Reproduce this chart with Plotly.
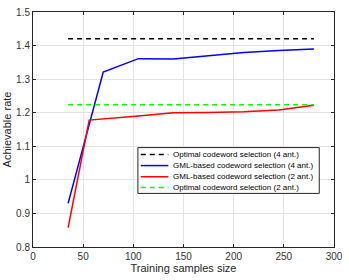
import plotly.graph_objects as go

x_blue = [35, 70, 105, 140, 175, 210, 245, 280]
y_blue = [0.93, 1.321, 1.361, 1.36, 1.37, 1.379, 1.385, 1.39]
x_red = [35, 56, 105, 140, 175, 210, 245, 280]
y_red = [0.858, 1.178, 1.19, 1.20, 1.201, 1.203, 1.208, 1.222]
x_opt = [35, 280]
y_opt4 = [1.42, 1.42]
y_opt2 = [1.224, 1.224]

names = ["Optimal codeword selection (4 ant.)",
         "GML-based codeword selection (4 ant.)",
         "GML-based codeword selection (2 ant.)",
         "Optimal codeword selection (2 ant.)"]
colors = ["black", "#0000ff", "#ff0000", "#00ff00"]
dashes = ["5px,4px", "solid", "solid", "5px,4px"]

fig = go.Figure()
series = [(x_opt, y_opt4), (x_blue, y_blue), (x_red, y_red), (x_opt, y_opt2)]
for (xs, ys), nm, c, d in zip(series, names, colors, dashes):
    fig.add_trace(go.Scatter(x=xs, y=ys, mode="lines", name=nm, showlegend=False,
                             line=dict(color=c, width=1.5, dash=d)))

axis_common = dict(showline=True, linecolor="#262626", linewidth=1, mirror="ticks",
                   ticks="inside", ticklen=3, tickcolor="#262626",
                   showgrid=True, gridcolor="#e3e3e3", gridwidth=1, zeroline=False,
                   tickfont=dict(size=10, color="#333333", family="Liberation Sans, Arial"))

# custom compact legend (MATLAB-style)
shapes = [dict(type="rect", xref="paper", yref="paper", x0=0.3485, x1=0.951,
               y0=0.228, y1=0.423, line=dict(color="#262626", width=1),
               fillcolor="white", layer="above")]
annotations = []
row_y = [0.394, 0.3465, 0.299, 0.253]
for nm, c, d, ry in zip(names, colors, dashes, row_y):
    shapes.append(dict(type="line", xref="paper", yref="paper", x0=0.358, x1=0.4495,
                       y0=ry, y1=ry, line=dict(color=c, width=1.5, dash=d), layer="above"))
    annotations.append(dict(xref="paper", yref="paper", x=0.459, y=ry, text=nm,
                            showarrow=False, xanchor="left", yanchor="middle",
                            font=dict(size=8, color="black", family="Liberation Sans, Arial")))

fig.update_layout(
    width=349, height=280,
    margin=dict(l=32, r=10, t=6, b=33),
    paper_bgcolor="white", plot_bgcolor="white",
    font=dict(family="Liberation Sans, Arial", color="#262626"),
    xaxis=dict(range=[0, 300], tickvals=[0, 50, 100, 150, 200, 250, 300],
               title=dict(text="Training samples size", font=dict(size=11), standoff=3),
               **axis_common),
    yaxis=dict(range=[0.8, 1.5], tickvals=[0.8, 0.9, 1, 1.1, 1.2, 1.3, 1.4, 1.5],
               ticktext=["0.8", "0.9", "1", "1.1", "1.2", "1.3", "1.4", "1.5"],
               title=dict(text="Achievable rate", font=dict(size=11), standoff=2),
               **axis_common),
    shapes=shapes,
    annotations=annotations,
    showlegend=False,
)

fig.write_html("out.html", config={"displayModeBar": False},
               post_script="document.body.style.margin='0px';")
